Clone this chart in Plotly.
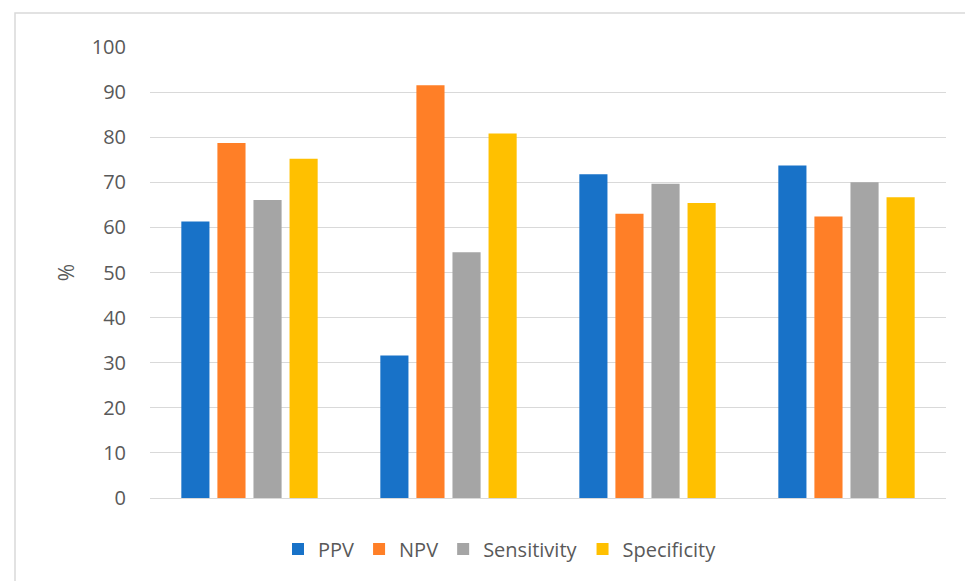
import plotly.graph_objects as go

categories = ["Group 1", "Group 2", "Group 3", "Group 4"]
ppv = [61.3, 31.6, 71.8, 73.7]
npv = [78.7, 91.5, 63.0, 62.4]
sensitivity = [66.1, 54.5, 69.7, 70.0]
specificity = [75.2, 80.8, 65.4, 66.7]
y_ticks = [0, 10, 20, 30, 40, 50, 60, 70, 80, 90, 100]

series = [
    ("PPV", ppv, "#1872C8"),
    ("NPV", npv, "#FF7F27"),
    ("Sensitivity", sensitivity, "#A5A5A5"),
    ("Specificity", specificity, "#FFC000"),
]

fig = go.Figure()
for name, vals, color in series:
    fig.add_trace(go.Bar(name=name, x=categories, y=vals, marker_color=color,
                         marker_line_width=0))

font_fam = "Open Sans, Noto Sans, sans-serif"
OFF = 8  # page body offset
W, H = 973 - OFF, 581 - OFF
L, T = 150 - OFF, 47 - OFF
R = W - (946 - OFF)
B = H - (498 - OFF)
pw, ph = W - L - R, H - T - B


def px_x(x):
    return (x - OFF - L) / pw


def px_y(y):
    return (H - B - (y - OFF)) / ph


fig.update_layout(
    width=W, height=H,
    margin=dict(l=L, r=R, t=T, b=B),
    paper_bgcolor="white", plot_bgcolor="white",
    barmode="group", bargap=0.275, bargroupgap=0.22,
    font=dict(family=font_fam, color="#595959", size=20),
    showlegend=True,
    legend=dict(orientation="h", x=px_x(500), xanchor="center",
                y=px_y(549), yanchor="middle",
                font=dict(size=20, color="#595959"), itemwidth=30,
                traceorder="normal"),
    xaxis=dict(showticklabels=False, showgrid=False, zeroline=False,
               showline=False, ticks=""),
    yaxis=dict(range=[0, 100], tickvals=y_ticks, showgrid=True,
               gridcolor="#D9D9D9", gridwidth=1.3, zeroline=True,
               zerolinecolor="#D9D9D9", zerolinewidth=1.3, showline=False,
               ticks="", ticklabelstandoff=23,
               tickfont=dict(size=20, color="#595959"),
               title=dict(text="%", font=dict(size=21, color="#595959"), standoff=11)),
    shapes=[dict(type="rect", xref="paper", yref="paper",
                 x0=px_x(15), x1=px_x(1000),
                 y0=px_y(600), y1=px_y(13),
                 line=dict(color="#D9D9D9", width=1.5), fillcolor="rgba(0,0,0,0)",
                 layer="below")],
)

fig.write_html("out.html")
